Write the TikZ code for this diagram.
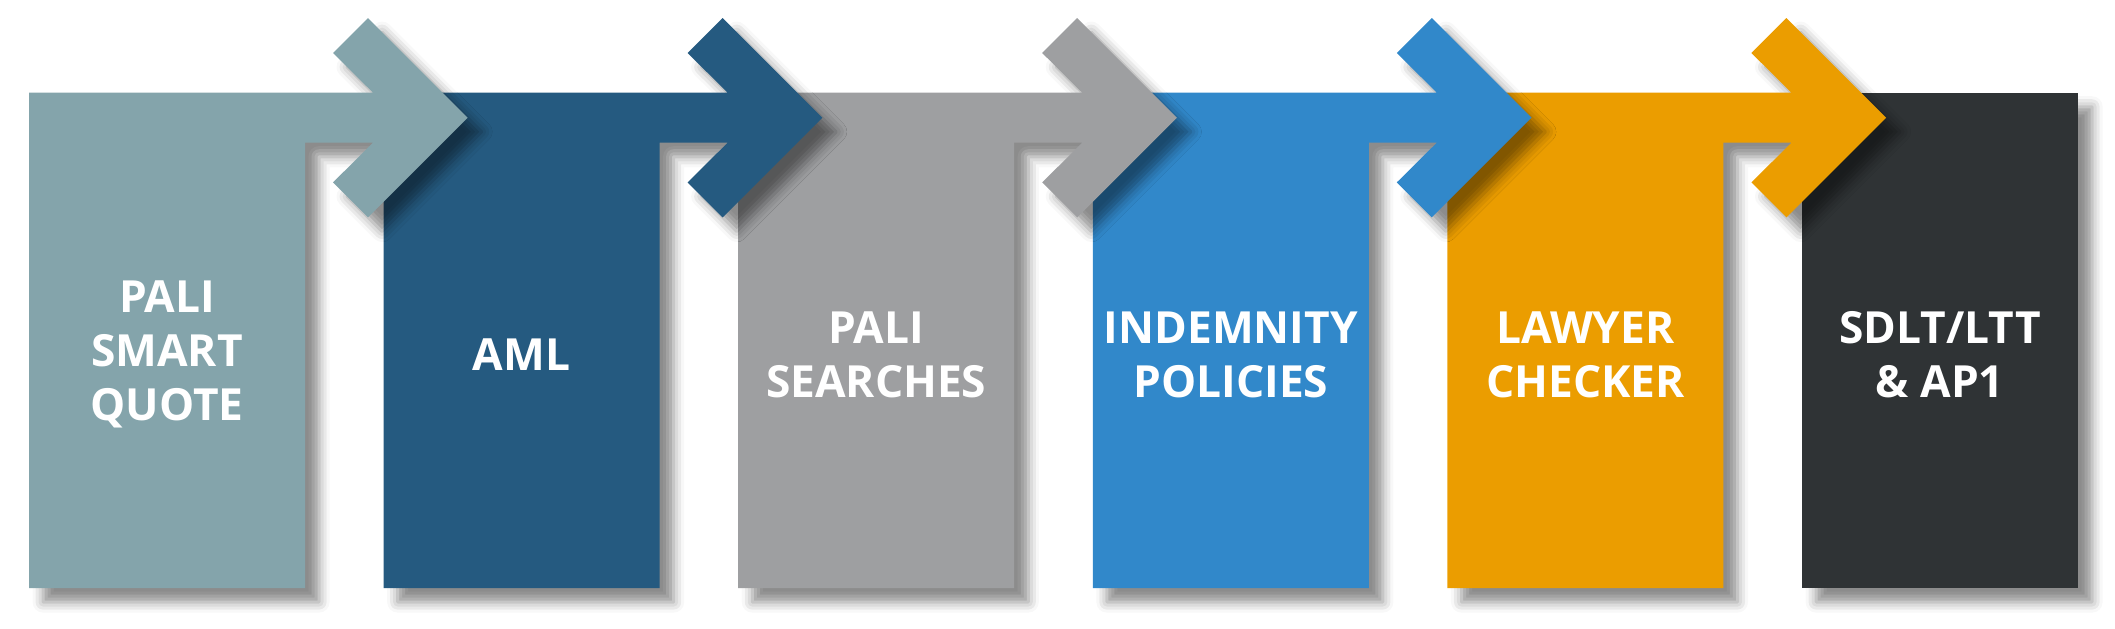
\documentclass[tikz,border=0pt]{standalone}
\usepackage{fontspec}
\setsansfont{Open Sans}
\usetikzlibrary{positioning,shadows.blur}

\definecolor{quotecol}{HTML}{84A4AB}
\definecolor{amlcol}{HTML}{255A80}
\definecolor{searchcol}{HTML}{9E9FA1}
\definecolor{policycol}{HTML}{3188CA}
\definecolor{lawyercol}{HTML}{EB9D00}
\definecolor{sdltcol}{HTML}{2F3335}

\begin{document}
\begin{tikzpicture}[
    x=0.1mm, y=-0.1mm,
    stage/.style={fill=#1, blur shadow={shadow xshift=4pt, shadow yshift=-4pt, shadow blur radius=3pt, shadow opacity=45}},
    stagetext/.style={text=white, align=center, font=\sffamily\bfseries\fontsize{12.6}{15.36}\selectfont}
]
    \useasboundingbox (0,0) rectangle (2115,628);

    % last stage, no arrow
    \fill[stage=sdltcol] (1802,92.7) rectangle (2078,588);

    % stages with arrows, drawn from right to left
    \foreach \L/\c in {1447.4/lawyercol, 1092.8/policycol, 738.2/searchcol, 383.6/amlcol, 29/quotecol} {
        \pgfmathsetmacro{\R}{\L+276}
        \fill[stage=\c] (\L,92.7) -- (\R+68,92.7) -- (\R+28,53) -- (\R+63,18)
            -- (\R+162.7,117.7) -- (\R+63,217.4) -- (\R+28,182.4) -- (\R+68,142.7)
            -- (\R,142.7) -- (\R,588) -- (\L,588) -- cycle;
    }

    \node[stagetext] (quote00)  at (167,354)  {PALI\\SMART\\QUOTE};
    \node[stagetext] (aml00)    at (521.6,355) {AML};
    \node[stagetext] (search00) at (876.2,355) {PALI\\SEARCHES};
    \node[stagetext] (policy00) at (1230.8,355) {INDEMNITY\\POLICIES};
    \node[stagetext] (lawyer00) at (1585.4,355) {LAWYER\\CHECKER};
    \node[stagetext] (sdlt00)   at (1940,355) {SDLT/LTT\\\& AP1};
\end{tikzpicture}
\end{document}
